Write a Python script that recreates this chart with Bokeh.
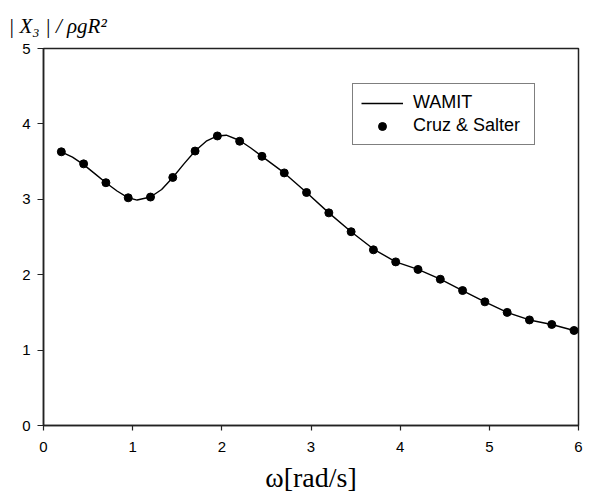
from bokeh.plotting import figure
from bokeh.models import Range1d, Legend, LegendItem, FixedTicker
from bokeh.embed import file_html
from bokeh.resources import INLINE

# Data
cruz_w = [0.2, 0.45, 0.7, 0.95, 1.2, 1.45, 1.7, 1.95, 2.2, 2.45, 2.7, 2.95,
          3.2, 3.45, 3.7, 3.95, 4.2, 4.45, 4.7, 4.95, 5.2, 5.45, 5.7, 5.95]
cruz_x3 = [3.63, 3.47, 3.22, 3.02, 3.03, 3.29, 3.64, 3.84, 3.77, 3.57, 3.35, 3.09,
           2.82, 2.57, 2.33, 2.17, 2.07, 1.94, 1.79, 1.64, 1.50, 1.40, 1.34, 1.26]

wamit_w = [0.2, 0.325, 0.45, 0.575, 0.7, 0.825, 0.95, 1.05, 1.2, 1.325, 1.45,
           1.575, 1.7, 1.825, 1.95, 2.05, 2.2, 2.325, 2.45, 2.7, 2.95, 3.2,
           3.45, 3.7, 3.95, 4.2, 4.45, 4.7, 4.95, 5.2, 5.45, 5.7, 5.95]
wamit_x3 = [3.63, 3.56, 3.46, 3.34, 3.22, 3.11, 3.02, 2.99, 3.03, 3.13, 3.29,
            3.47, 3.64, 3.77, 3.84, 3.85, 3.78, 3.68, 3.57, 3.35, 3.09, 2.82,
            2.57, 2.34, 2.17, 2.07, 1.94, 1.79, 1.64, 1.50, 1.40, 1.34, 1.26]

x_ticks = [0, 1, 2, 3, 4, 5, 6]
y_ticks = [0, 1, 2, 3, 4, 5]

p = figure(width=589, height=496, output_backend="svg", toolbar_location=None,
           x_range=Range1d(0, 6), y_range=Range1d(0, 5),
           min_border_left=43, min_border_right=11, min_border_top=48,
           min_border_bottom=71)
p.grid.visible = False
p.outline_line_color = "#222222"
p.outline_line_width = 1.5
p.background_fill_color = "white"
p.border_fill_color = "white"

# y-axis caption placed as a title above the frame, left-aligned
p.title.text = "| X₃ | / ρgR²"
p.title.text_font = "Liberation Serif"
p.title.text_font_style = "italic"
p.title.text_font_size = "21px"
p.title.text_color = "black"
p.title.align = "left"
p.title.offset = -35
p.title.standoff = 22

for ax in (p.xaxis[0], p.yaxis[0]):
    ax.axis_line_color = "#222222"
    ax.axis_line_width = 1.5
    ax.major_tick_line_color = "#222222"
    ax.major_tick_line_width = 1.2
    ax.major_tick_in = 0
    ax.minor_tick_line_color = None
    ax.major_label_text_font = "Liberation Sans"
    ax.major_label_text_font_size = "15px"
    ax.major_label_text_color = "black"

p.xaxis.major_tick_out = 5
p.yaxis.major_tick_out = 6
p.xaxis.ticker = FixedTicker(ticks=x_ticks)
p.yaxis.ticker = FixedTicker(ticks=y_ticks)
p.xaxis.major_label_standoff = 11
p.yaxis.major_label_standoff = 7

p.xaxis.axis_label = "ω[rad/s]"
p.xaxis.axis_label_text_font = "Liberation Serif"
p.xaxis.axis_label_text_font_style = "normal"
p.xaxis.axis_label_text_font_size = "28px"
p.xaxis.axis_label_text_color = "black"
p.xaxis.axis_label_standoff = 7

line = p.line(wamit_w, wamit_x3, line_color="black", line_width=1.4)
dots = p.scatter(cruz_w, cruz_x3, size=8, fill_color="black", line_color="black")

legend = Legend(items=[LegendItem(label="WAMIT", renderers=[line]),
                       LegendItem(label="Cruz & Salter", renderers=[dots])],
                location=(309, 280))
legend.border_line_color = "black"
legend.border_line_width = 1.3
legend.label_text_font = "Liberation Sans"
legend.label_text_font_size = "18px"
legend.label_text_color = "black"
legend.glyph_width = 42
legend.glyph_height = 20
legend.label_height = 20
legend.label_width = 113
legend.label_standoff = 10
legend.padding = 8
legend.spacing = 2
legend.margin = 0
legend.background_fill_alpha = 1
p.add_layout(legend)

open("out.html", "w").write(file_html(p, INLINE))
